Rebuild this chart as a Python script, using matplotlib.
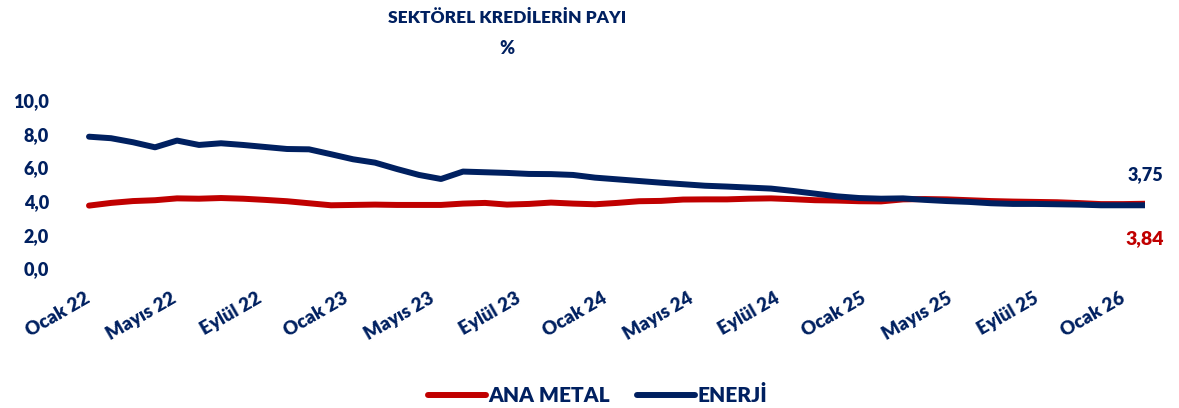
import numpy as np
import matplotlib
matplotlib.use("Agg")
import matplotlib.pyplot as plt

navy = "#002060"
red = "#C00000"
plt.rcParams['font.family'] = ['Lato', 'DejaVu Sans']
plt.rcParams['font.weight'] = 'heavy'

# monthly, Ocak 22 .. Ocak 26
ana_metal = [3.73, 3.89, 4.00, 4.05, 4.16, 4.14, 4.18, 4.14, 4.07, 3.99,
             3.87, 3.75, 3.77, 3.79, 3.77, 3.77, 3.77, 3.85, 3.89, 3.79,
             3.83, 3.91, 3.85, 3.81, 3.89, 3.99, 4.01, 4.09, 4.10, 4.10,
             4.14, 4.16, 4.11, 4.05, 4.03, 3.99, 3.98, 4.10, 4.12, 4.10,
             4.05, 4.00, 3.97, 3.95, 3.93, 3.88, 3.82, 3.82, 3.84]
enerji = [7.82, 7.73, 7.49, 7.19, 7.59, 7.33, 7.43, 7.33, 7.21, 7.09,
          7.07, 6.78, 6.48, 6.28, 5.90, 5.55, 5.31, 5.75, 5.71, 5.67,
          5.61, 5.60, 5.55, 5.39, 5.29, 5.19, 5.09, 5.00, 4.91, 4.86,
          4.80, 4.74, 4.60, 4.44, 4.28, 4.18, 4.14, 4.16, 4.07, 4.00,
          3.95, 3.87, 3.83, 3.83, 3.81, 3.79, 3.75, 3.75, 3.75]
tick_labels = ["Ocak 22", "Mayıs 22", "Eylül 22", "Ocak 23", "Mayıs 23", "Eylül 23",
               "Ocak 24", "Mayıs 24", "Eylül 24", "Ocak 25", "Mayıs 25", "Eylül 25",
               "Ocak 26"]
last_labels = ["3,84", "3,75"]

x = np.arange(len(enerji))

fig = plt.figure(figsize=(11.79, 4.08), dpi=100)
ax = fig.add_axes([0.0699, 0.342, 0.9013, 0.413])

ax.plot(x, ana_metal, color=red, lw=4.3, solid_capstyle='round', label="ANA METAL")
ax.plot(x, enerji, color=navy, lw=4.3, solid_capstyle='round', label="ENERJİ")

ax.set_yticks(np.arange(0, 11, 2))
ax.set_yticklabels([f"{v:.1f}".replace(".", ",") for v in np.arange(0, 11, 2)])

# category labels sit a bit tighter than the data in the original
label_pos = np.arange(len(tick_labels)) * 3.92 - 0.23
ax.set_xticks(label_pos)
ax.set_xticklabels(tick_labels, rotation=30, ha='right', rotation_mode='anchor')
ax.set_xlim(-0.3, len(x) - 1)
ax.set_ylim(0, 10)

ax.tick_params(axis='y', length=0, pad=24, labelsize=13, labelcolor=navy)
ax.tick_params(axis='x', length=0, pad=15, labelsize=13.5, labelcolor=navy)
for s in ax.spines.values():
    s.set_visible(False)

ax.annotate(last_labels[1], (x[-1], enerji[-1]), xytext=(0, 22), textcoords='offset points',
            ha='center', va='center', color=navy, fontsize=13)
ax.annotate(last_labels[0], (x[-1], ana_metal[-1]), xytext=(0, -25), textcoords='offset points',
            ha='center', va='center', color=red, fontsize=14)

fig.text(0.43, 0.955, "SEKTÖREL KREDİLERİN PAYI", ha='center', va='center',
         color=navy, fontsize=12.5)
fig.text(0.43, 0.882, "%", ha='center', va='center', color=navy, fontsize=13)

leg = fig.legend(loc='center', bbox_to_anchor=(0.507, 0.032), ncol=2, frameon=False,
                 handlelength=2.75, handletextpad=0.14, columnspacing=1.3,
                 prop={'size': 15, 'weight': 'heavy'})
for t in leg.get_texts():
    t.set_color(navy)

fig.savefig("out.png", dpi=100)
